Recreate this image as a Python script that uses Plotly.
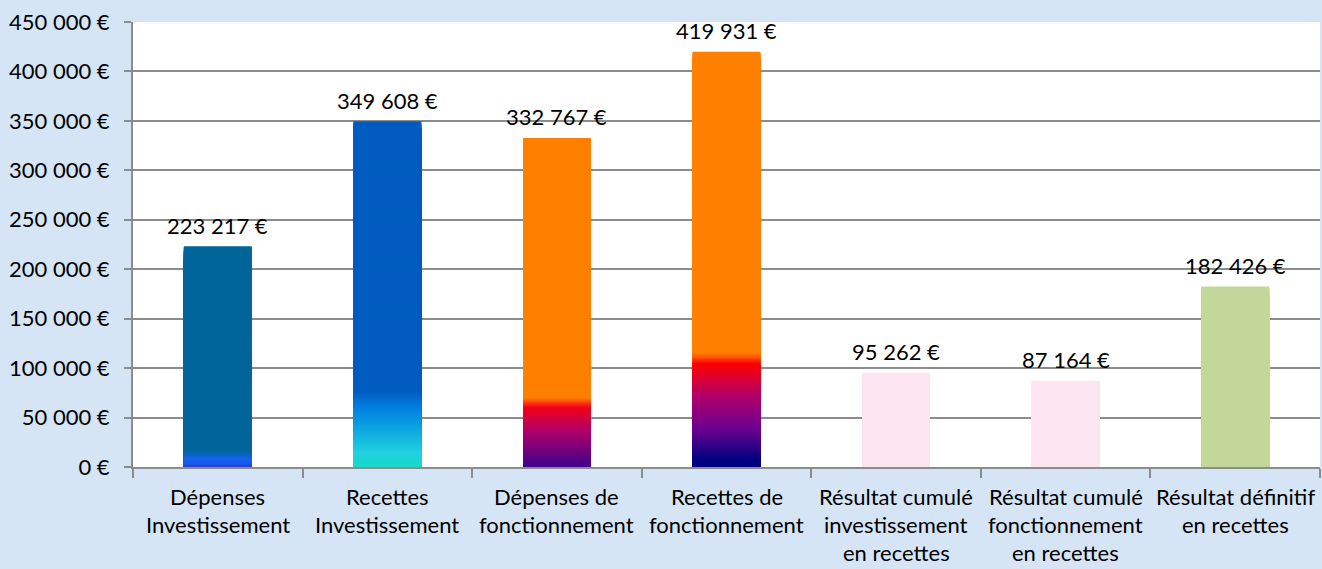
import numpy as np
import plotly.graph_objects as go

# ---- data ----
categories = [
    "Dépenses\nInvestissement",
    "Recettes\nInvestissement",
    "Dépenses de\nfonctionnement",
    "Recettes de\nfonctionnement",
    "Résultat cumulé\ninvestissement\nen recettes",
    "Résultat cumulé\nfonctionnement\nen recettes",
    "Résultat définitif\nen recettes",
]
values = [223217, 349608, 332767, 419931, 95262, 87164, 182426]
y_ticks = [0, 50000, 100000, 150000, 200000, 250000, 300000, 350000, 400000, 450000]

# ---- styles: gradient stops per bar (fraction of bar height from bottom, colour) ----
gradients = [
    [(0.0, "#2B3CCB"), (0.015, "#1A58EE"), (0.035, "#1464F2"), (0.075, "#02669B"), (1.0, "#00669A")],
    [(0.0, "#18D8C6"), (0.04, "#20D2E0"), (0.10, "#10ACE0"), (0.17, "#0080E2"), (0.22, "#005BBF"), (1.0, "#005BBF")],
    [(0.0, "#40008F"), (0.11, "#B00068"), (0.18, "#F00018"), (0.195, "#FF3A10"), (0.21, "#FF8000"), (1.0, "#FF8000")],
    [(0.0, "#000080"), (0.017, "#000080"), (0.09, "#6A008F"), (0.17, "#B0006A"), (0.25, "#FF0000"),
     (0.262, "#FF4A00"), (0.275, "#FF8000"), (1.0, "#FF8000")],
    [(0.0, "#FDE4F1"), (1.0, "#FDE4F1")],
    [(0.0, "#FDE4F1"), (1.0, "#FDE4F1")],
    [(0.0, "#C4D79B"), (1.0, "#C4D79B")],
]

FONT = "Lato, Calibri, Carlito, sans-serif"
FS = 22
keys = [c.replace("\n", " ") for c in categories]


def hex2rgb(h):
    h = h.lstrip("#")
    return np.array([int(h[i:i + 2], 16) for i in (0, 2, 4)], dtype=float)


def colour_at(stops, f):
    fs = [s[0] for s in stops]
    cols = np.array([hex2rgb(s[1]) for s in stops])
    rgb = [np.interp(f, fs, cols[:, j]) for j in range(3)]
    return "rgb(%d,%d,%d)" % tuple(int(round(v)) for v in rgb)


fig = go.Figure()
N = 320
vals = np.array(values, dtype=float)
for k in range(N):
    top = 1 - k / N
    mid = top - 0.5 / N
    fig.add_trace(go.Bar(
        x=keys, y=vals * top,
        marker=dict(color=[colour_at(g, mid) for g in gradients], line=dict(width=0)),
        hoverinfo="skip", showlegend=False,
    ))

labels = [f"{v:,}".replace(",", " ") + " €" for v in values]
for key, v, lab in zip(keys, values, labels):
    fig.add_annotation(
        x=key, y=v, xref="x", yref="y", yanchor="middle", yshift=21,
        text=lab, showarrow=False,
        font=dict(family=FONT, size=FS, color="#000000"),
    )

for key, cat in zip(keys, categories):
    for i, line in enumerate(cat.split("\n")):
        fig.add_annotation(
            x=key, xref="x", y=0, yref="paper", yanchor="middle",
            yshift=-29 - 28 * i, text=line, showarrow=False,
            font=dict(family=FONT, size=FS, color="#000000"),
        )

fig.update_layout(
    width=1322, height=569,
    margin=dict(l=133, r=2, t=22, b=102, autoexpand=False),
    paper_bgcolor="#D6E5F6", plot_bgcolor="#FFFFFF",
    barmode="overlay", bargap=0.6,
    font=dict(family=FONT, size=FS, color="#000000"),
    showlegend=False,
)
fig.update_xaxes(
    type="category", showticklabels=False, tickson="boundaries",
    ticks="outside", ticklen=9, tickwidth=2, tickcolor="#8C8C8C",
    showline=True, linecolor="#8C8C8C", linewidth=2, showgrid=False,
)
fig.update_yaxes(
    range=[0, 450000], tickvals=y_ticks,
    ticktext=[f"{v:,}".replace(",", " ") + " €" for v in y_ticks],
    ticks="outside", ticklen=7, tickwidth=2, tickcolor="#8C8C8C",
    showline=True, linecolor="#8C8C8C", linewidth=2,
    showgrid=True, gridcolor="#8C8C8C", gridwidth=2, zeroline=False,
    tickfont=dict(family=FONT, size=FS), ticklabelstandoff=10,
)

fig.write_html(
    "out.html",
    config={"displayModeBar": False},
    post_script="document.body.style.margin='0';document.body.style.background='#D6E5F6';",
)
